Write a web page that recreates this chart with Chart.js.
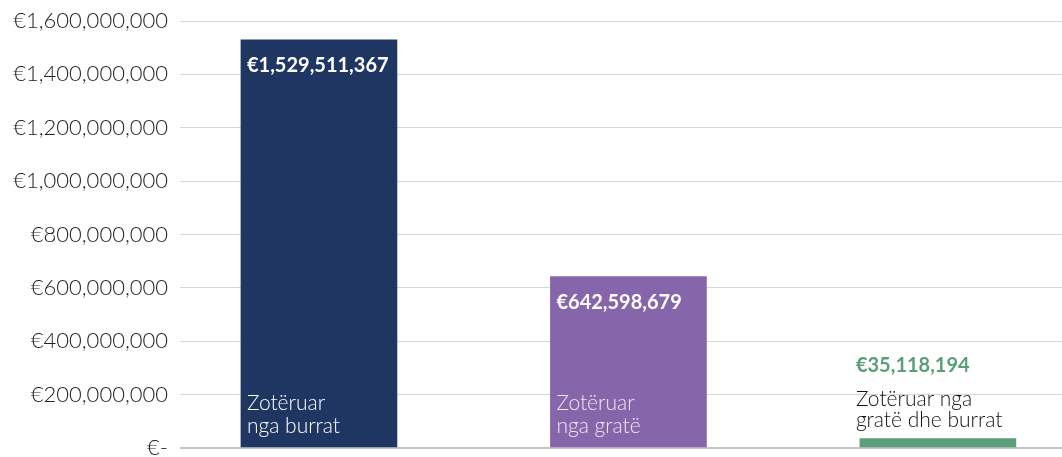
<!DOCTYPE html>
<html lang="sq">
<head>
    <meta charset="UTF-8">
    <title>Zotërimi sipas gjinisë</title>
    <script src="https://cdn.jsdelivr.net/npm/chart.js"></script>
    <style>
        html, body { margin: 0; padding: 0; background: #fff; overflow: hidden; }
        #wrap { position: relative; width: 1062px; height: 457px; }
    </style>
</head>
<body>
    <div id="wrap"><canvas id="ownerChart"></canvas></div>

    <script>
        // Data
        const categories = [['Zotëruar', 'nga burrat'], ['Zotëruar', 'nga gratë'], ['Zotëruar nga', 'gratë dhe burrat']];
        const values = [1529511367, 642598679, 35118194];
        const barColors = ['#1f3663', '#8665aa', '#5a9e7a'];
        const yTicks = [0, 200000000, 400000000, 600000000, 800000000, 1000000000, 1200000000, 1400000000, 1600000000];

        const FONT = 'Lato, "Open Sans", sans-serif';

        function euro(v) {
            return v === 0 ? '€-' : '€' + v.toLocaleString('en-US');
        }

        // draws value + category text on or above each bar
        const barLabels = {
            id: 'barLabels',
            afterDatasetsDraw(chart) {
                const ctx = chart.ctx;
                const meta = chart.getDatasetMeta(0);
                ctx.save();
                ctx.textBaseline = 'middle';
                ctx.textAlign = 'left';
                meta.data.forEach((bar, i) => {
                    const left = bar.x - bar.width / 2;
                    const inside = bar.base - bar.y > 120;
                    const lines = categories[i];
                    if (inside) {
                        ctx.fillStyle = '#ffffff';
                        ctx.font = 'bold 20px ' + FONT;
                        ctx.fillText(euro(values[i]), left + 6, bar.y + 26);
                        ctx.font = '300 21px ' + FONT;
                        ctx.fillStyle = i === 0 ? '#ffffff' : '#efe8f6';
                        ctx.fillText(lines[0], left + 6, bar.base - 44);
                        ctx.fillText(lines[1], left + 6, bar.base - 21);
                    } else {
                        ctx.fillStyle = barColors[i];
                        ctx.font = 'bold 20px ' + FONT;
                        ctx.fillText(euro(values[i]), left - 4, bar.base - 81);
                        ctx.fillStyle = '#111111';
                        ctx.font = '300 21px ' + FONT;
                        ctx.fillText(lines[0], left - 4, bar.base - 48);
                        ctx.fillText(lines[1], left - 4, bar.base - 27);
                    }
                });
                ctx.restore();
            }
        };

        new Chart(document.getElementById('ownerChart'), {
            type: 'bar',
            data: {
                datasets: [{
                    data: values.map((v, i) => ({ x: i, y: v })),
                    backgroundColor: barColors,
                    borderWidth: 0,
                    barThickness: 156
                }]
            },
            options: {
                responsive: true,
                maintainAspectRatio: false,
                animation: false,
                layout: { padding: { top: 21, bottom: 9, left: 10, right: 0 } },
                plugins: {
                    legend: { display: false },
                    tooltip: { enabled: false }
                },
                scales: {
                    x: {
                        type: 'linear',
                        offset: false,
                        min: -0.449,
                        max: 2.401,
                        display: false
                    },
                    y: {
                        min: 0,
                        max: 1600000000,
                        afterBuildTicks(axis) {
                            axis.ticks = yTicks.map(v => ({ value: v }));
                        },
                        afterFit(axis) {
                            axis.paddingTop = 0;
                            axis.paddingBottom = 0;
                            axis.width = 170;
                        },
                        ticks: {
                            color: '#222222',
                            padding: 12,
                            font: { family: FONT, size: 22, weight: '300' },
                            callback: v => euro(v)
                        },
                        grid: {
                            color: ctx => ctx.tick && ctx.tick.value === 0 ? '#c4c4c4' : '#d6d6d6',
                            lineWidth: ctx => ctx.tick && ctx.tick.value === 0 ? 2 : 1,
                            drawTicks: false
                        },
                        border: { display: false }
                    }
                }
            },
            plugins: [barLabels]
        });
    </script>
</body>
</html>
